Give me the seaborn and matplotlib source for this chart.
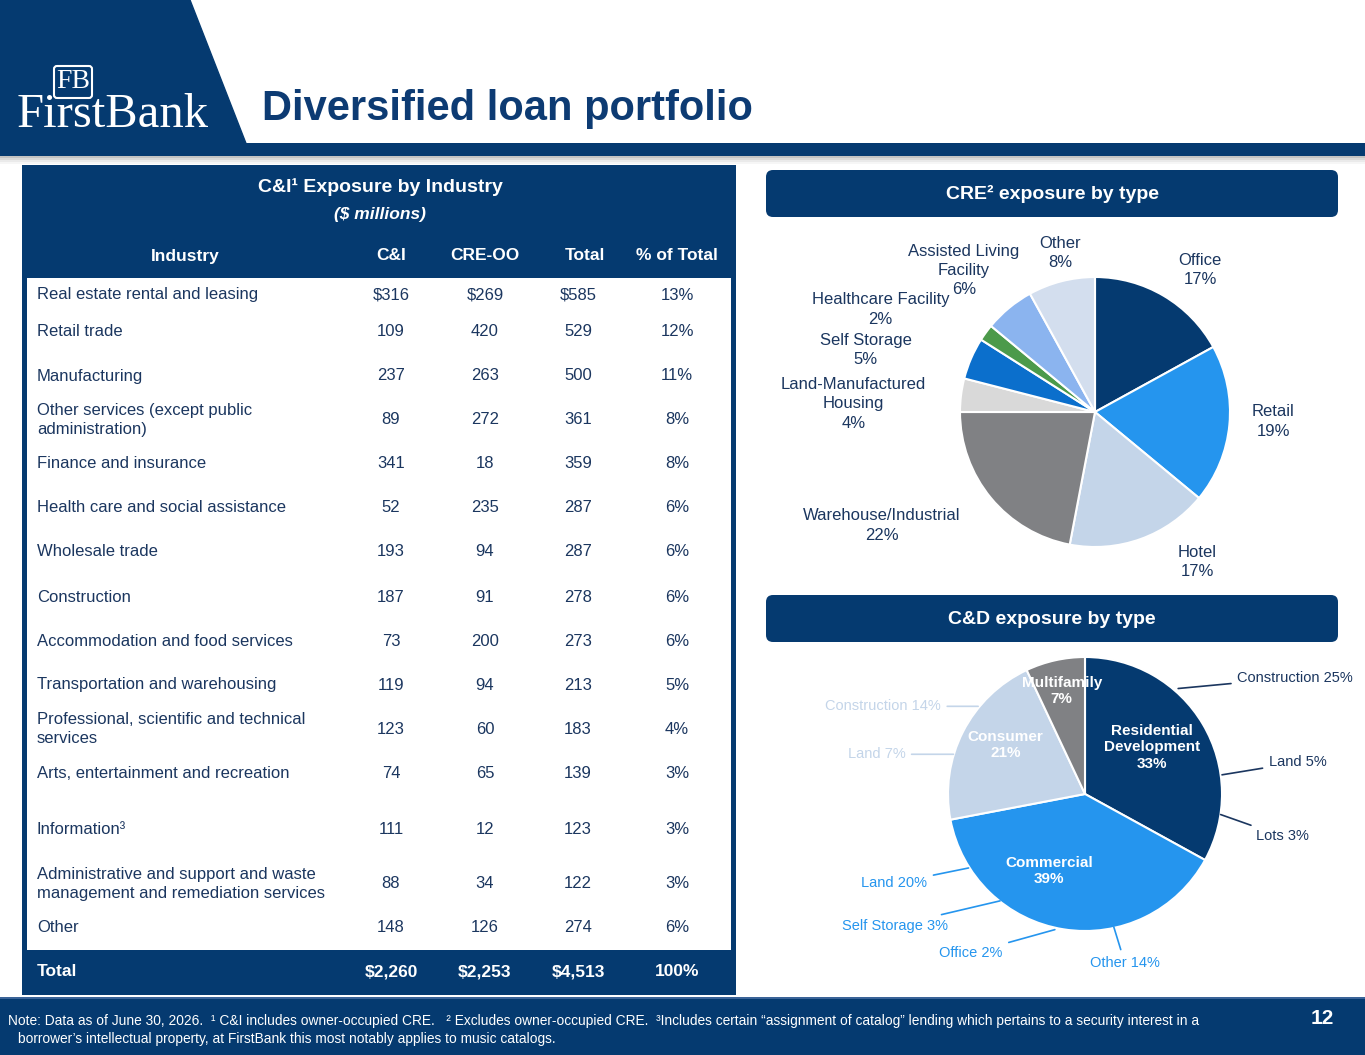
import matplotlib.pyplot as plt
import matplotlib.patches as mpatches
import seaborn as sns

sns.set_theme(style="white")
plt.rcParams["font.family"] = ["Liberation Sans", "DejaVu Sans"]

# === Data ===
industries = [
    "Real estate rental and leasing",
    "Retail trade",
    "Manufacturing",
    "Other services (except public\nadministration)",
    "Finance and insurance",
    "Health care and social assistance",
    "Wholesale trade",
    "Construction",
    "Accommodation and food services",
    "Transportation and warehousing",
    "Professional, scientific and technical\nservices",
    "Arts, entertainment and recreation",
    "Information³",
    "Administrative and support and waste\nmanagement and remediation services",
    "Other",
]
ci_vals = [316, 109, 237, 89, 341, 52, 193, 187, 73, 119, 123, 74, 111, 88, 148]
cre_oo_vals = [269, 420, 263, 272, 18, 235, 94, 91, 200, 94, 60, 65, 12, 34, 126]
total_vals = [585, 529, 500, 361, 359, 287, 287, 278, 273, 213, 183, 139, 123, 122, 274]
pct_vals = [13, 12, 11, 8, 8, 6, 6, 6, 6, 5, 4, 3, 3, 3, 6]
table_cols = ["Industry", "C&I", "CRE-OO", "Total", "% of Total"]

cre_types = ["Office", "Retail", "Hotel", "Warehouse/Industrial",
             "Land-Manufactured\nHousing", "Self Storage", "Healthcare Facility",
             "Assisted Living\nFacility", "Other"]
cre_pct = [17, 19, 17, 22, 4, 5, 2, 6, 8]

cd_types = ["Residential\nDevelopment", "Commercial", "Consumer", "Multifamily"]
cd_pct = [33, 39, 21, 7]
cd_sub_labels = ["Construction 25%", "Land 5%", "Lots 3%",
                 "Land 20%", "Self Storage 3%", "Office 2%", "Other 14%",
                 "Construction 14%", "Land 7%"]
cd_sub_parent = [0, 0, 0, 1, 1, 1, 1, 2, 2]

# === Styles ===
NAVY = "#053A70"
TXT = "#1B365F"
BLUE = "#2595EE"
LIGHT = "#C4D5E9"
cre_colors = [NAVY, BLUE, LIGHT, "#808184", "#D9D9D9", "#0B6FCC", "#4C9A4B",
              "#8BB4EF", "#D3DEEE"]
cd_colors = [NAVY, BLUE, LIGHT, "#808184"]
sub_colors = [TXT, BLUE, LIGHT]

W, H = 1365, 1055
fig = plt.figure(figsize=(W / 100, H / 100), dpi=100)
bg = fig.add_axes([0, 0, 1, 1])
bg.set_xlim(0, W)
bg.set_ylim(H, 0)
bg.axis("off")

# === Header ===
bg.add_patch(mpatches.Polygon([(0, 0), (190, 0), (247, 146), (0, 146)],
                              closed=True, color=NAVY, zorder=1))
for i, a in enumerate([0.35, 0.22, 0.12, 0.05]):
    bg.add_patch(mpatches.Rectangle((0, 156 + i * 2), W, 2, color="#555555",
                                    alpha=a, lw=0, zorder=1))
bg.add_patch(mpatches.Rectangle((0, 143), W, 13, color=NAVY, lw=0, zorder=2))
bg.text(262, 109, "Diversified loan portfolio", fontsize=30, fontweight="bold",
        color="#0D3B73", va="center", ha="left")
bg.text(113, 115, "FirstBank", family="Liberation Serif", fontsize=35,
        color="white", ha="center", va="center")
bg.add_patch(mpatches.FancyBboxPatch((54, 66), 38, 32, boxstyle="round,pad=0,rounding_size=3",
                                     fc="none", ec="white", lw=1.5, zorder=3))
bg.text(73, 82, "FB", family="Liberation Serif", fontsize=20, color="white",
        ha="center", va="center", zorder=4)

# === Table ===
bg.add_patch(mpatches.Rectangle((22, 165), 714, 830, color=NAVY, lw=0, zorder=1))
bg.add_patch(mpatches.Rectangle((27, 278), 704, 672, color="white", lw=0, zorder=2))
bg.text(380, 187, "C&I¹ Exposure by Industry", fontsize=14, fontweight="bold",
        color="white", ha="center", va="center", zorder=3)
bg.text(380, 215, "($ millions)", fontsize=12.5, fontweight="bold", style="italic",
        color="white", ha="center", va="center", zorder=3)
col_x = [185, 391, 485, 585, 677]
for x, c in zip(col_x, table_cols):
    bg.text(x, 256, c, fontsize=12.5, fontweight="bold", color="white",
            ha="center", va="center", zorder=3)

row_y = [295, 331, 376, 420, 464, 508, 552, 597, 641, 685, 729, 774, 829, 884, 928]
val_x = [391, 485, 578, 677]
for i, y in enumerate(row_y):
    bg.text(37, y, industries[i], fontsize=12, color=TXT, ha="left", va="center",
            linespacing=1.4, zorder=3)
    pre = "$" if i == 0 else ""
    vals = [f"{pre}{ci_vals[i]}", f"{pre}{cre_oo_vals[i]}",
            f"{pre}{total_vals[i]}", f"{pct_vals[i]}%"]
    for x, v in zip(val_x, vals):
        bg.text(x, y, v, fontsize=12, color=TXT, ha="center", va="center", zorder=3)

tot = [f"${sum(ci_vals):,}", f"${sum(cre_oo_vals):,}", f"${sum(total_vals):,}", "100%"]
bg.text(37, 972, "Total", fontsize=12.5, fontweight="bold", color="white",
        ha="left", va="center", zorder=3)
for x, v in zip(val_x, tot):
    bg.text(x, 972, v, fontsize=12.5, fontweight="bold", color="white",
            ha="center", va="center", zorder=3)

# === Section banners ===
for y0, title in [(170, "CRE² exposure by type"), (595, "C&D exposure by type")]:
    bg.add_patch(mpatches.FancyBboxPatch((766, y0), 572, 47,
                                         boxstyle="round,pad=0,rounding_size=7",
                                         fc=NAVY, ec="none", zorder=2))
    bg.text(1052, y0 + 24, title, fontsize=14, fontweight="bold", color="white",
            ha="center", va="center", zorder=3)

# === Footer ===
bg.add_patch(mpatches.Rectangle((0, 998), W, 57, color=NAVY, lw=0, zorder=1))
bg.add_patch(mpatches.Rectangle((0, 997), W, 2, color="#3A6398", lw=0, zorder=2))
bg.text(8, 1021, "Note: Data as of June 30, 2026.  ¹ C&I includes owner-occupied CRE.   "
        "² Excludes owner-occupied CRE.  ³Includes certain “assignment of catalog” lending "
        "which pertains to a security interest in a", fontsize=9.9, color="white",
        ha="left", va="center", zorder=3)
bg.text(18, 1039, "borrower’s intellectual property, at FirstBank this most notably "
        "applies to music catalogs.", fontsize=9.9, color="white",
        ha="left", va="center", zorder=3)
bg.text(1322, 1019, "12", fontsize=15, fontweight="bold", color="white",
        ha="center", va="center", zorder=3)


def pie_axes(cx, cy, r, k=2.2):
    side = 2 * r * k
    ax = fig.add_axes([(cx - side / 2) / W, (H - cy - side / 2) / H, side / W, side / H])
    ax.set_facecolor("none")
    return ax, k


# === CRE pie ===
ax1, k1 = pie_axes(1095, 412, 135)
wedges, _ = ax1.pie(cre_pct, colors=cre_colors, startangle=90, counterclock=False,
                    radius=1, wedgeprops=dict(edgecolor="white", linewidth=1.5))
cre_label_pos = [(0.78, 1.05), (1.32, -0.07), (0.76, -1.11), (-1.58, -0.84),
                 (-1.79, 0.06), (-1.70, 0.46), (-1.59, 0.76), (-0.97, 1.05),
                 (-0.26, 1.18)]
for (lx, ly), name, p in zip(cre_label_pos, cre_types, cre_pct):
    ax1.text(lx, ly, f"{name}\n{p}%", fontsize=12, color=TXT, ha="center",
             va="center", linespacing=1.35)
ax1.set_xlim(-k1, k1)
ax1.set_ylim(-k1, k1)
ax1.axis("off")

# === C&D pie ===
ax2, k2 = pie_axes(1085, 794, 137)
ax2.pie(cd_pct, colors=cd_colors, startangle=90, counterclock=False, radius=1,
        wedgeprops=dict(edgecolor="white", linewidth=1.5))
cd_inner_pos = [(0.49, 0.34), (-0.26, -0.56), (-0.58, 0.36), (-0.17, 0.75)]
for (lx, ly), name, p in zip(cd_inner_pos, cd_types, cd_pct):
    ax2.text(lx, ly, f"{name}\n{p}%", fontsize=11, fontweight="bold", color="white",
             ha="center", va="center", linespacing=1.2)

# (text x, text y, line start x, line start y, ha) in radius units
cd_sub_pos = [(1.11, 0.85, 0.68, 0.77, "left"),
              (1.34, 0.23, 1.00, 0.14, "left"),
              (1.25, -0.31, 0.99, -0.15, "left"),
              (-1.15, -0.65, -0.85, -0.54, "right"),
              (-1.00, -0.96, -0.62, -0.78, "right"),
              (-0.60, -1.16, -0.22, -0.99, "right"),
              (0.29, -1.23, 0.21, -0.97, "center"),
              (-1.05, 0.64, -0.78, 0.64, "right"),
              (-1.31, 0.29, -0.96, 0.29, "right")]
for (tx, ty, sx, sy, ha), lab, par in zip(cd_sub_pos, cd_sub_labels, cd_sub_parent):
    col = sub_colors[par]
    ax2.annotate(lab, xy=(sx, sy), xytext=(tx, ty), fontsize=10.5, color=col,
                 ha=ha, va="center",
                 arrowprops=dict(arrowstyle="-", color=col, lw=1.2,
                                 shrinkA=2, shrinkB=0))
ax2.set_xlim(-k2, k2)
ax2.set_ylim(-k2, k2)
ax2.axis("off")

fig.savefig("out.png", dpi=100)
